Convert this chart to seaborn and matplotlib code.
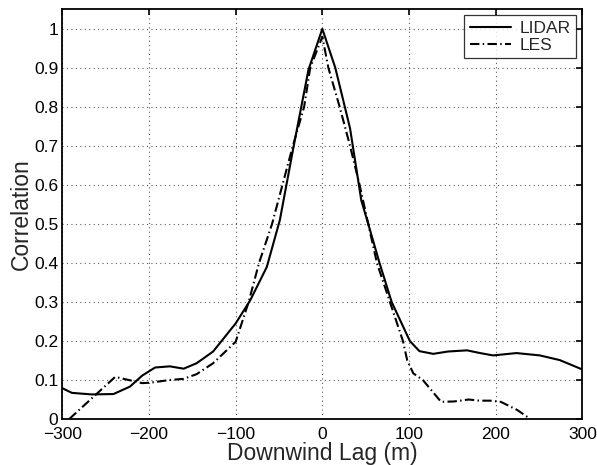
import matplotlib
matplotlib.use("Agg")
import matplotlib.pyplot as plt
import seaborn as sns
import pandas as pd

lidar_lag = [-300, -289, -266, -241, -222, -208, -193, -176, -160, -145, -126, -100, -83, -64, -49,
             -33, -16, 0, 15, 32, 45, 53, 66, 80, 101, 112, 128, 145, 167, 182, 197, 224, 251, 274, 300]
lidar_corr = [0.079, 0.067, 0.063, 0.064, 0.083, 0.111, 0.132, 0.135, 0.129, 0.143, 0.173, 0.245, 0.305,
              0.39, 0.51, 0.70, 0.895, 1.0, 0.90, 0.745, 0.56, 0.50, 0.40, 0.30, 0.20, 0.174, 0.167,
              0.173, 0.176, 0.169, 0.163, 0.169, 0.163, 0.151, 0.127]

les_lag = [-292, -239, -208, -199, -176, -160, -145, -126, -100, -85, -73, -58, -34, -21, -14, 0,
           7, 20, 32, 43, 63, 78, 93, 98, 105, 116, 137, 152, 169, 181, 194, 206, 225, 240]
les_corr = [0.0, 0.108, 0.092, 0.093, 0.10, 0.103, 0.115, 0.143, 0.198, 0.30, 0.40, 0.50, 0.70, 0.80,
            0.90, 0.98, 0.90, 0.80, 0.70, 0.60, 0.40, 0.30, 0.20, 0.15, 0.117, 0.10, 0.044, 0.045,
            0.05, 0.047, 0.047, 0.044, 0.023, 0.0]

series_names = ["LIDAR", "LES"]
x_ticks = [-300, -200, -100, 0, 100, 200, 300]
y_ticks = [0, 0.1, 0.2, 0.3, 0.4, 0.5, 0.6, 0.7, 0.8, 0.9, 1]
y_tick_labels = ["0", "0.1", "0.2", "0.3", "0.4", "0.5", "0.6", "0.7", "0.8", "0.9", "1"]

df = pd.concat([
    pd.DataFrame({"lag": lidar_lag, "corr": lidar_corr, "src": series_names[0]}),
    pd.DataFrame({"lag": les_lag, "corr": les_corr, "src": series_names[1]}),
])

sns.set_style("white")
plt.rcParams["font.family"] = ["Liberation Sans", "DejaVu Sans"]

fig = plt.figure(figsize=(5.97, 4.65), dpi=100)
ax = fig.add_axes([0.1044, 0.0989, 0.871, 0.881])

sns.lineplot(data=df, x="lag", y="corr", hue="src", style="src",
             palette={"LIDAR": "black", "LES": "black"},
             dashes={"LIDAR": "", "LES": (4.5, 1.6, 0.7, 1.6)},
             linewidth=1.5, ax=ax, sort=False, estimator=None)

ax.set_xlim(-300, 300)
ax.set_ylim(0, 1.05)
ax.set_xticks(x_ticks)
ax.set_xticklabels([str(v).replace("-", "\u2212") for v in x_ticks])
ax.set_yticks(y_ticks)
ax.set_yticklabels(y_tick_labels)
ax.grid(True, linestyle=(0, (1, 3)), color="0.35", linewidth=0.8)
ax.tick_params(direction="in", length=4.5, width=1.2, labelsize=12.5, top=True, right=True,
               colors="black")
ax.tick_params(axis="x", pad=5.5)
ax.tick_params(axis="y", pad=3)
for s in ax.spines.values():
    s.set_visible(True)
    s.set_linewidth(1.3)
    s.set_color("black")

ax.set_xlabel("Downwind Lag (m)", fontsize=16.5, labelpad=0.5)
ax.set_ylabel("Correlation", fontsize=16.5, labelpad=1)

leg = ax.legend(loc="upper right", fontsize=12.5, frameon=True, fancybox=False,
                borderaxespad=0.35, handlelength=2.4, handletextpad=0.5,
                borderpad=0.3, labelspacing=0.12)
leg.get_frame().set_edgecolor("black")
leg.get_frame().set_linewidth(0.9)
leg.set_title(None)

fig.savefig("out.png", dpi=100)
